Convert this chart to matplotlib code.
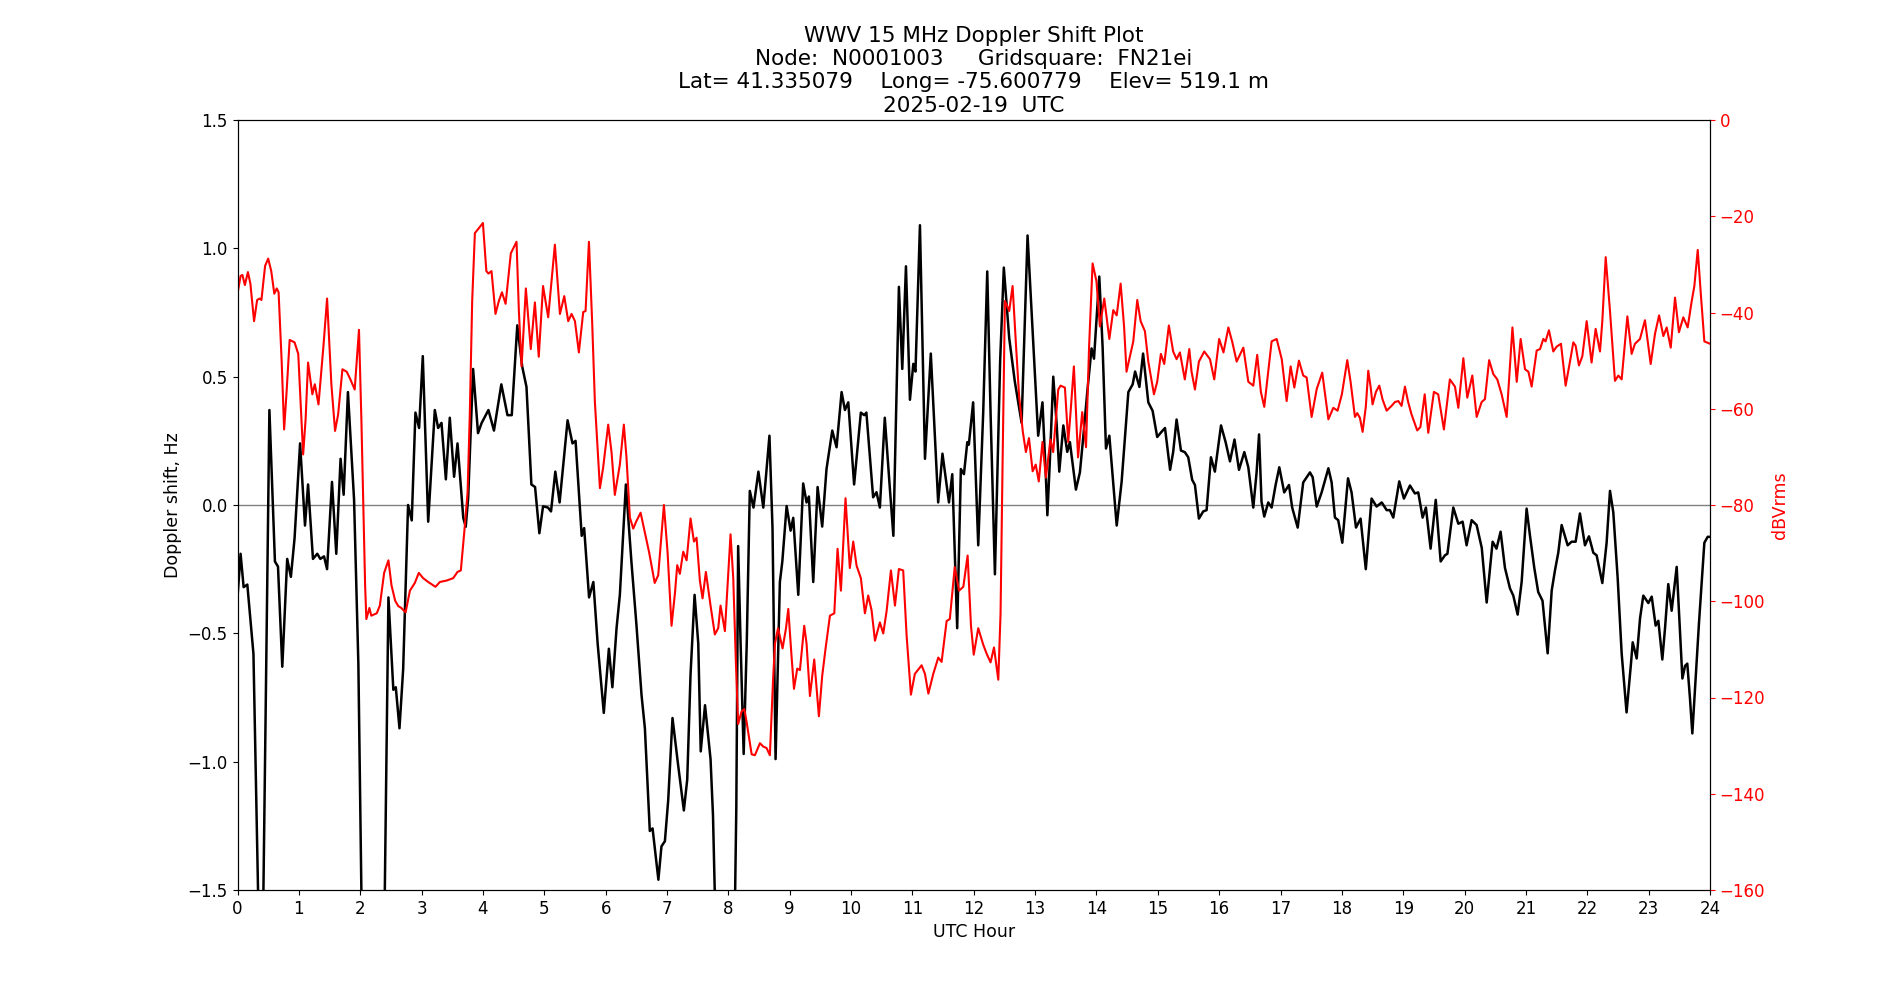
import matplotlib
matplotlib.use("Agg")
import matplotlib.pyplot as plt

# ---- Doppler shift (Hz) ----
dop_hour = [0.0, 0.05, 0.10, 0.16, 0.26, 0.34, 0.375, 0.42, 0.52, 0.61, 0.66, 0.73, 0.81, 0.87, 0.93,
            1.02, 1.10, 1.15, 1.23, 1.30, 1.35, 1.41, 1.46, 1.54, 1.61, 1.68, 1.73, 1.80, 1.90, 1.97,
            2.02, 2.10, 2.32, 2.40, 2.46, 2.54, 2.58, 2.64, 2.70, 2.78, 2.84, 2.90, 2.96, 3.02, 3.108,
            3.216, 3.27, 3.325, 3.396, 3.46, 3.53, 3.586, 3.68, 3.72, 3.76, 3.84, 3.92, 3.98, 4.09,
            4.18, 4.30, 4.40, 4.47, 4.56, 4.64, 4.71, 4.79, 4.85, 4.92, 4.98, 5.06, 5.11, 5.18, 5.25,
            5.38, 5.46, 5.51, 5.61, 5.65, 5.73, 5.80, 5.87, 5.97, 6.053, 6.11, 6.178, 6.232, 6.33,
            6.42, 6.50, 6.585, 6.64, 6.72, 6.765, 6.86, 6.91, 6.966, 7.02, 7.09, 7.18, 7.275, 7.33,
            7.384, 7.45, 7.51, 7.55, 7.62, 7.71, 7.75, 7.78, 7.86, 8.05, 8.11, 8.13, 8.16, 8.20,
            8.25, 8.30, 8.35, 8.41, 8.49, 8.57, 8.67, 8.72, 8.77, 8.84, 8.88, 8.95, 9.015, 9.058,
            9.14, 9.22, 9.275, 9.313, 9.384, 9.455, 9.53, 9.60, 9.694, 9.764, 9.846, 9.90, 9.955,
            10.05, 10.16, 10.215, 10.25, 10.36, 10.415, 10.47, 10.55, 10.634, 10.69, 10.78, 10.835,
            10.895, 10.96, 11.015, 11.05, 11.123, 11.205, 11.30, 11.42, 11.49, 11.596, 11.65, 11.73,
            11.79, 11.84, 11.895, 11.92, 11.99, 12.073, 12.154, 12.22, 12.274, 12.345, 12.43, 12.49,
            12.578, 12.67, 12.78, 12.877, 12.97, 13.05, 13.12, 13.176, 13.20, 13.24, 13.296, 13.35,
            13.394, 13.46, 13.524, 13.567, 13.665, 13.73, 13.785, 13.85, 13.92, 13.96, 14.046, 14.10,
            14.155, 14.21, 14.33, 14.41, 14.52, 14.59, 14.63, 14.70, 14.76, 14.845, 14.915, 14.99,
            15.06, 15.117, 15.20, 15.25, 15.306, 15.377, 15.44, 15.496, 15.56, 15.605, 15.67, 15.74,
            15.795, 15.866, 15.93, 16.03, 16.105, 16.176, 16.25, 16.323, 16.41, 16.475, 16.556,
            16.61, 16.65, 16.69, 16.735, 16.80, 16.855, 16.92, 16.98, 17.06, 17.138, 17.19, 17.28,
            17.37, 17.48, 17.524, 17.59, 17.67, 17.78, 17.833, 17.887, 17.94, 18.007, 18.10, 18.158,
            18.23, 18.305, 18.39, 18.484, 18.566, 18.65, 18.73, 18.783, 18.838, 18.935, 19.011,
            19.11, 19.19, 19.245, 19.316, 19.37, 19.446, 19.53, 19.61, 19.68, 19.72, 19.816, 19.898,
            19.968, 20.033, 20.115, 20.196, 20.28, 20.36, 20.457, 20.52, 20.587, 20.658, 20.74,
            20.794, 20.865, 20.93, 21.011, 21.065, 21.136, 21.20, 21.27, 21.354, 21.42, 21.473,
            21.527, 21.582, 21.68, 21.745, 21.81, 21.88, 21.962, 22.027, 22.098, 22.152, 22.245,
            22.315, 22.37, 22.424, 22.495, 22.56, 22.64, 22.712, 22.74, 22.805, 22.86, 22.913,
            22.995, 23.05, 23.114, 23.158, 23.223, 23.267, 23.32, 23.375, 23.457, 23.55, 23.593,
            23.63, 23.674, 23.712, 23.766, 23.82, 23.908, 23.962, 24.0]
dop_hz = [-0.36, -0.19, -0.32, -0.31, -0.58, -1.55, -2.0, -1.55, 0.37, -0.22, -0.24, -0.63, -0.21,
          -0.28, -0.13, 0.24, -0.08, 0.08, -0.21, -0.19, -0.21, -0.20, -0.25, 0.09, -0.19, 0.18,
          0.04, 0.44, 0.02, -0.62, -1.52, -2.0, -2.0, -1.52, -0.36, -0.72, -0.71, -0.87, -0.64,
          0.0, -0.06, 0.36, 0.30, 0.58, -0.065, 0.37, 0.30, 0.32, 0.10, 0.34, 0.11, 0.24, -0.05,
          -0.085, 0.03, 0.53, 0.28, 0.32, 0.37, 0.29, 0.47, 0.35, 0.35, 0.70, 0.54, 0.46, 0.08,
          0.07, -0.11, -0.005, -0.01, -0.025, 0.13, 0.01, 0.33, 0.24, 0.25, -0.12, -0.09, -0.36,
          -0.30, -0.54, -0.81, -0.56, -0.71, -0.48, -0.35, 0.08, -0.22, -0.46, -0.74, -0.87, -1.27,
          -1.26, -1.46, -1.33, -1.31, -1.15, -0.83, -1.01, -1.19, -1.07, -0.66, -0.35, -0.54, -0.96,
          -0.78, -0.99, -1.21, -1.52, -2.0, -2.0, -1.52, -1.18, -0.16, -0.54, -0.97, -0.54, 0.055,
          -0.01, 0.13, -0.01, 0.27, -0.09, -0.99, -0.30, -0.22, -0.004, -0.10, -0.05, -0.35, 0.084,
          0.01, 0.033, -0.30, 0.07, -0.084, 0.14, 0.29, 0.225, 0.44, 0.37, 0.40, 0.08, 0.36, 0.35,
          0.36, 0.03, 0.05, -0.01, 0.34, 0.06, -0.12, 0.85, 0.53, 0.93, 0.41, 0.55, 0.52, 1.09,
          0.18, 0.59, 0.01, 0.20, 0.01, 0.12, -0.48, 0.14, 0.12, 0.245, 0.235, 0.40, -0.157, 0.36,
          0.91, 0.36, -0.27, 0.56, 0.925, 0.65, 0.48, 0.32, 1.05, 0.635, 0.27, 0.40, 0.108, -0.04,
          0.17, 0.50, 0.32, 0.13, 0.31, 0.207, 0.245, 0.06, 0.127, 0.265, 0.44, 0.61, 0.57, 0.89,
          0.617, 0.22, 0.27, -0.08, 0.09, 0.44, 0.47, 0.52, 0.46, 0.59, 0.40, 0.367, 0.265, 0.285,
          0.30, 0.137, 0.206, 0.333, 0.212, 0.206, 0.186, 0.098, 0.078, -0.053, -0.025, -0.02,
          0.186, 0.13, 0.31, 0.245, 0.17, 0.255, 0.137, 0.206, 0.147, -0.01, 0.127, 0.275, 0.013,
          -0.045, 0.01, -0.01, 0.078, 0.147, 0.049, 0.078, -0.01, -0.088, 0.088, 0.127, 0.108,
          -0.006, 0.049, 0.143, 0.088, -0.049, -0.059, -0.147, 0.104, 0.049, -0.088, -0.053, -0.25,
          0.025, -0.006, 0.01, -0.02, -0.02, -0.049, 0.092, 0.025, 0.076, 0.045, 0.049, -0.049,
          -0.01, -0.17, 0.02, -0.22, -0.196, -0.19, -0.01, -0.073, -0.065, -0.157, -0.059, -0.078,
          -0.167, -0.38, -0.143, -0.17, -0.104, -0.245, -0.325, -0.353, -0.427, -0.30, -0.014,
          -0.118, -0.245, -0.339, -0.373, -0.578, -0.333, -0.255, -0.186, -0.078, -0.157, -0.143,
          -0.143, -0.033, -0.157, -0.122, -0.186, -0.196, -0.304, -0.147, 0.055, -0.029, -0.284,
          -0.578, -0.808, -0.618, -0.535, -0.598, -0.441, -0.353, -0.382, -0.357, -0.47, -0.451,
          -0.602, -0.480, -0.308, -0.412, -0.241, -0.676, -0.627, -0.618, -0.755, -0.89, -0.676,
          -0.461, -0.147, -0.124, -0.124]

# ---- Signal level (dBVrms) ----
lvl_hour = [0.0, 0.05, 0.08, 0.12, 0.17, 0.21, 0.27, 0.32, 0.36, 0.39, 0.45, 0.50, 0.55, 0.60, 0.64,
            0.67, 0.72, 0.76, 0.80, 0.85, 0.93, 0.99, 1.02, 1.07, 1.11, 1.15, 1.22, 1.26, 1.32, 1.40,
            1.46, 1.53, 1.59, 1.64, 1.71, 1.78, 1.84, 1.91, 1.98, 2.02, 2.08, 2.10, 2.15, 2.18, 2.27,
            2.32, 2.39, 2.46, 2.51, 2.57, 2.62, 2.67, 2.74, 2.81, 2.89, 2.955, 3.026, 3.108, 3.227,
            3.298, 3.407, 3.516, 3.586, 3.64, 3.695, 3.75, 3.787, 3.825, 3.869, 3.92, 4.00, 4.056,
            4.09, 4.14, 4.205, 4.26, 4.31, 4.37, 4.455, 4.548, 4.586, 4.63, 4.70, 4.78, 4.847, 4.91,
            4.98, 5.064, 5.173, 5.255, 5.326, 5.39, 5.445, 5.50, 5.564, 5.635, 5.673, 5.728, 5.78,
            5.825, 5.907, 5.96, 6.042, 6.096, 6.15, 6.232, 6.297, 6.34, 6.395, 6.45, 6.50, 6.57,
            6.64, 6.71, 6.80, 6.857, 6.95, 7.01, 7.074, 7.13, 7.167, 7.21, 7.265, 7.32, 7.384, 7.44,
            7.482, 7.536, 7.58, 7.634, 7.71, 7.78, 7.835, 7.873, 7.944, 8.036, 8.08, 8.124, 8.16,
            8.216, 8.26, 8.297, 8.38, 8.433, 8.515, 8.57, 8.623, 8.677, 8.73, 8.76, 8.81, 8.884,
            8.94, 8.977, 9.03, 9.07, 9.123, 9.167, 9.237, 9.275, 9.33, 9.40, 9.476, 9.53, 9.585,
            9.656, 9.727, 9.78, 9.835, 9.91, 9.98, 10.036, 10.09, 10.16, 10.226, 10.28, 10.335,
            10.39, 10.47, 10.525, 10.58, 10.65, 10.716, 10.78, 10.85, 10.906, 10.976, 11.04, 11.15,
            11.205, 11.26, 11.34, 11.422, 11.476, 11.558, 11.61, 11.69, 11.76, 11.83, 11.90, 11.955,
            12.0, 12.073, 12.154, 12.21, 12.274, 12.33, 12.40, 12.437, 12.47, 12.508, 12.546,
            12.578, 12.633, 12.69, 12.74, 12.80, 12.85, 12.90, 12.96, 13.01, 13.06, 13.12, 13.176,
            13.25, 13.295, 13.377, 13.415, 13.486, 13.54, 13.578, 13.632, 13.70, 13.768, 13.83,
            13.88, 13.937, 14.0, 14.056, 14.127, 14.21, 14.274, 14.33, 14.394, 14.45, 14.49, 14.546,
            14.60, 14.665, 14.72, 14.79, 14.845, 14.937, 14.99, 15.05, 15.105, 15.18, 15.25, 15.306,
            15.36, 15.44, 15.513, 15.55, 15.605, 15.67, 15.757, 15.85, 15.92, 16.0, 16.07, 16.15,
            16.215, 16.285, 16.394, 16.475, 16.556, 16.62, 16.68, 16.735, 16.80, 16.855, 16.937,
            17.02, 17.10, 17.165, 17.225, 17.30, 17.37, 17.426, 17.507, 17.59, 17.68, 17.78, 17.86,
            17.93, 18.0, 18.088, 18.142, 18.213, 18.25, 18.294, 18.338, 18.39, 18.43, 18.468, 18.50,
            18.555, 18.61, 18.664, 18.73, 18.81, 18.865, 18.92, 18.973, 19.028, 19.08, 19.136,
            19.228, 19.28, 19.35, 19.408, 19.50, 19.57, 19.663, 19.76, 19.843, 19.898, 19.98,
            20.044, 20.126, 20.197, 20.278, 20.332, 20.40, 20.468, 20.533, 20.604, 20.686, 20.78,
            20.85, 20.914, 20.985, 21.04, 21.093, 21.175, 21.23, 21.283, 21.32, 21.375, 21.446,
            21.50, 21.571, 21.647, 21.718, 21.772, 21.81, 21.864, 21.919, 21.99, 22.07, 22.136,
            22.207, 22.245, 22.30, 22.37, 22.451, 22.506, 22.56, 22.653, 22.723, 22.777, 22.859,
            22.94, 23.033, 23.104, 23.17, 23.24, 23.294, 23.36, 23.43, 23.494, 23.565, 23.636,
            23.701, 23.745, 23.80, 23.853, 23.908, 24.0]
lvl_db = [-36.1, -32.4, -32.2, -34.3, -31.6, -34.0, -41.8, -37.4, -37.1, -37.4, -30.3, -28.8, -31.4,
          -36.1, -35.0, -35.8, -50.2, -64.3, -56.5, -45.7, -46.2, -48.6, -56.5, -69.5, -62.2,
          -50.4, -57.0, -54.9, -59.1, -47.1, -37.1, -54.9, -64.6, -61.2, -51.8, -52.3, -53.9,
          -56.0, -43.6, -62.7, -96.7, -103.7, -101.4, -103.0, -102.5, -100.9, -94.1, -91.5, -96.7,
          -99.9, -101.0, -101.4, -102.3, -97.8, -96.2, -94.1, -95.2, -96.0, -97.0, -96.0, -95.7,
          -95.2, -93.9, -93.6, -85.8, -77.4, -60.7, -37.6, -23.5, -22.7, -21.4, -31.4, -31.9,
          -31.4, -40.3, -37.6, -35.8, -38.2, -27.7, -25.3, -39.7, -51.2, -35.0, -47.6, -37.9,
          -49.2, -34.5, -41.0, -25.9, -40.3, -36.6, -41.8, -40.3, -41.8, -48.3, -39.9, -39.7,
          -25.3, -41.8, -58.6, -76.5, -72.2, -63.3, -69.0, -77.9, -71.6, -63.3, -70.1, -82.6,
          -84.9, -83.4, -81.6, -85.8, -89.9, -96.2, -94.6, -80.0, -89.9, -105.1, -98.3, -92.5,
          -94.3, -89.7, -91.5, -82.8, -87.6, -86.8, -95.7, -99.4, -93.9, -100.9, -106.9, -105.6,
          -100.9, -106.2, -86.1, -95.2, -113.0, -125.5, -122.9, -122.4, -125.0, -131.8, -132.0,
          -129.5, -130.2, -130.5, -132.0, -116.1, -108.8, -105.6, -109.8, -105.6, -101.6, -111.4,
          -118.2, -114.0, -114.3, -105.1, -108.8, -119.7, -112.1, -123.9, -115.5, -109.8, -103.0,
          -102.5, -89.1, -97.8, -78.6, -93.1, -87.6, -92.6, -95.2, -102.5, -98.8, -101.9, -108.2,
          -104.4, -106.7, -102.0, -93.6, -100.9, -93.3, -93.6, -107.2, -119.4, -115.1, -113.3,
          -115.1, -119.2, -115.1, -111.7, -112.6, -104.1, -103.7, -92.9, -97.8, -97.0, -90.5,
          -105.1, -111.1, -105.6, -109.0, -110.9, -112.7, -109.6, -116.3, -102.5, -71.1, -37.6,
          -38.7, -39.7, -34.5, -47.1, -57.5, -64.8, -69.0, -66.1, -73.0, -71.6, -75.1, -66.9,
          -74.3, -66.4, -69.0, -56.0, -55.2, -55.6, -66.9, -60.7, -51.2, -70.1, -60.7, -68.0,
          -47.1, -29.8, -33.5, -42.9, -37.1, -45.5, -39.5, -40.6, -34.0, -42.9, -52.3, -49.1,
          -46.0, -37.4, -41.8, -43.9, -50.2, -57.0, -54.4, -48.6, -50.7, -42.7, -48.1, -49.7,
          -48.3, -53.9, -47.6, -52.3, -56.0, -50.2, -48.1, -49.7, -53.9, -45.5, -48.3, -43.1,
          -46.2, -50.2, -47.3, -54.4, -55.2, -48.8, -56.5, -59.6, -52.3, -46.0, -45.5, -49.7,
          -58.4, -51.2, -55.6, -50.0, -53.1, -53.5, -61.7, -55.9, -52.5, -62.2, -59.8, -60.4,
          -57.0, -49.9, -54.4, -61.7, -60.9, -61.9, -64.8, -59.6, -52.1, -55.4, -59.1, -56.5,
          -55.2, -58.1, -60.4, -59.4, -58.6, -58.4, -59.4, -55.4, -58.6, -61.2, -64.5, -63.8,
          -57.0, -65.0, -56.5, -57.0, -64.3, -53.9, -55.4, -59.8, -49.5, -57.7, -53.1, -61.7,
          -58.6, -58.0, -49.9, -52.8, -53.9, -57.0, -61.7, -43.1, -54.4, -45.5, -51.8, -52.3,
          -55.4, -47.9, -47.6, -45.5, -46.0, -43.7, -48.1, -47.1, -46.5, -55.2, -50.2, -46.2,
          -46.9, -51.0, -49.1, -41.8, -50.4, -43.4, -48.1, -41.8, -28.5, -39.7, -54.2, -53.1,
          -53.9, -40.8, -48.6, -46.5, -45.5, -41.6, -50.7, -44.4, -40.6, -44.9, -43.1, -47.3,
          -36.9, -44.1, -41.0, -43.1, -37.7, -34.5, -27.0, -36.6, -46.0, -46.5]

x_ticks = list(range(0, 25))
title_lines = ["WWV 15 MHz Doppler Shift Plot",
               "Node:  N0001003     Gridsquare:  FN21ei",
               "Lat= 41.335079    Long= -75.600779    Elev= 519.1 m",
               "2025-02-19  UTC"]

fig = plt.figure(figsize=(19, 10), dpi=100)
ax = fig.add_subplot(111)
ax.axhline(0, color="grey", linewidth=1.0)
ax.plot(dop_hour, dop_hz, color="black", linewidth=1.8,
        solid_joinstyle="round", solid_capstyle="round")
ax.set_xlim(0, 24)
ax.set_ylim(-1.5, 1.5)
ax.set_xticks(x_ticks)
ax.set_yticks([-1.5, -1.0, -0.5, 0.0, 0.5, 1.0, 1.5])
ax.tick_params(labelsize=12)
ax.set_xlabel("UTC Hour", fontsize=12.5)
ax.set_ylabel("Doppler shift, Hz", fontsize=12.5)
ax.set_title("\n".join(title_lines), fontsize=15.5)

ax2 = ax.twinx()
ax2.plot(lvl_hour, lvl_db, color="red", linewidth=1.5,
         solid_joinstyle="round", solid_capstyle="round")
ax2.set_ylim(-160, 0)
ax2.set_yticks(list(range(-160, 1, 20)))
ax2.tick_params(axis="y", colors="red", labelsize=12)
ax2.set_ylabel("dBVrms", color="red", fontsize=12.5)

fig.savefig("out.png", dpi=100)
